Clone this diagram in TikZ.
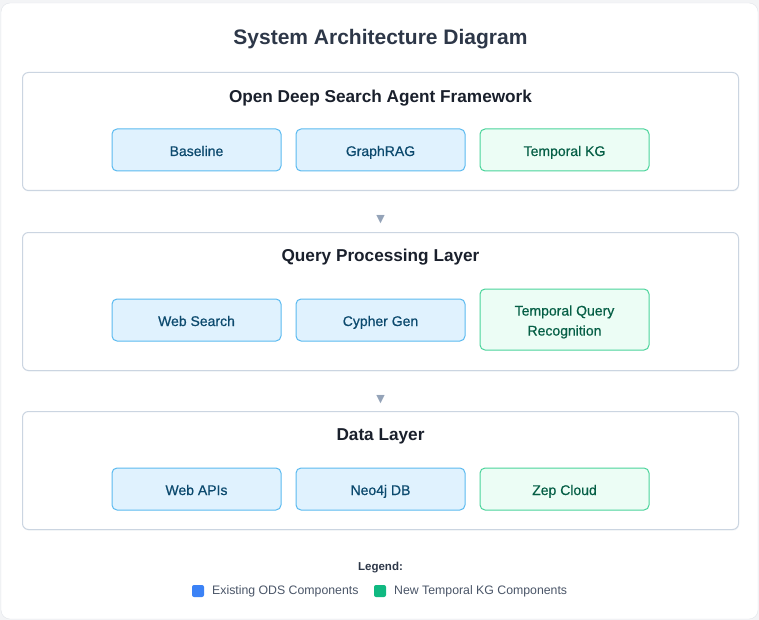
\documentclass[tikz,border=0pt]{standalone}
\usepackage{fontspec}
\setmainfont{Liberation Sans}
\newfontfamily\symfont{DejaVu Sans}
\newfontfamily\medfont[FakeBold=0.6]{Liberation Sans}
\usetikzlibrary{shadows}
\definecolor{pagebg}{HTML}{F3F4F6}
\definecolor{cardline}{HTML}{E2E5EA}
\definecolor{layerline}{HTML}{CBD5E1}
\definecolor{titlecol}{HTML}{2D3748}
\definecolor{layertitle}{HTML}{1A202C}
\definecolor{bluefill}{HTML}{E0F2FE}
\definecolor{blueline}{HTML}{5BBAF0}
\definecolor{bluetext}{HTML}{0C4A6E}
\definecolor{greenfill}{HTML}{ECFDF5}
\definecolor{greenline}{HTML}{4AD49B}
\definecolor{greentext}{HTML}{065F46}
\definecolor{arrowcol}{HTML}{94A3B8}
\definecolor{legblue}{HTML}{3B82F6}
\definecolor{leggreen}{HTML}{10B981}
\definecolor{legtext}{HTML}{4A5568}
\begin{document}
\begin{tikzpicture}[x=1pt,y=-1pt,
  layerbox/.style={draw=layerline,line width=1pt,fill=white,rounded corners=6pt,
    drop shadow={shadow xshift=0.6pt,shadow yshift=-1.2pt,opacity=0.18,fill=layerline}},
  layerlabel/.style={font=\fontsize{17.2}{20}\selectfont\bfseries,text=layertitle},
  compbox/.style={line width=1pt,rounded corners=5pt,
    minimum width=169pt,minimum height=42pt,align=center,
    font=\medfont\fontsize{14}{20}\selectfont},
  odsbox/.style={compbox,draw=blueline,fill=bluefill,text=bluetext,text height=15pt,text depth=3pt},
  kgbox/.style={compbox,draw=greenline,fill=greenfill,text=greentext},
  onekg/.style={kgbox,text height=15pt,text depth=3pt},
  flow/.style={text=arrowcol,font=\symfont\fontsize{11}{12}\selectfont},
  legsq/.style={fill=#1,rounded corners=2pt,minimum size=12pt,inner sep=0pt},
  legtxt/.style={text=legtext,font=\fontsize{12.3}{14}\selectfont,anchor=west,inner sep=0pt}
]
\useasboundingbox (0,0) rectangle (759,620);
\fill[pagebg] (0,0) rectangle (759,620);
\draw[cardline,fill=white,rounded corners=9pt] (1,3) rectangle (758,619);

\node[font=\fontsize{21}{24}\selectfont\bfseries,text=titlecol] (title) at (380.5,39) {System Architecture Diagram};

% Layer 1
\draw[layerbox] (22.5,72.5) rectangle (738.5,190.5);
\node[layerlabel] (l1) at (380.5,98) {Open Deep Search Agent Framework};
\node[odsbox] (baseline) at (196.5,150) {Baseline};
\node[odsbox] (graphrag) at (380.5,150) {GraphRAG};
\node[onekg] (tkg) at (564.5,150) {Temporal KG};

\node[flow] (a1) at (380.5,220) {▼};

% Layer 2
\draw[layerbox] (22.5,232.5) rectangle (738.5,370.5);
\node[layerlabel] (l2) at (380.5,257) {Query Processing Layer};
\node[odsbox] (websearch) at (196.5,320) {Web Search};
\node[odsbox] (cypher) at (380.5,320) {Cypher Gen};
\node[kgbox,minimum height=61pt] (tqr) at (564.5,319.5) {\rule{0pt}{15pt}Temporal Query\\Recognition};

\node[flow] (a2) at (380.5,400) {▼};

% Layer 3
\draw[layerbox] (22.5,411.5) rectangle (738.5,529.5);
\node[layerlabel] (l3) at (380.5,436) {Data Layer};
\node[odsbox] (webapis) at (196.5,489) {Web APIs};
\node[odsbox] (neo) at (380.5,489) {Neo4j DB};
\node[onekg] (zep) at (564.5,489) {Zep Cloud};

% Legend
\node[font=\fontsize{11.5}{14}\selectfont\bfseries,text=titlecol] (leg) at (380.5,568) {Legend:};
\node[legsq=legblue] (sqb) at (198,591) {};
\node[legtxt] (txb) at (212,591) {Existing ODS Components};
\node[legsq=leggreen] (sqg) at (380,591) {};
\node[legtxt] (txg) at (394,591) {New Temporal KG Components};
\end{tikzpicture}
\end{document}
